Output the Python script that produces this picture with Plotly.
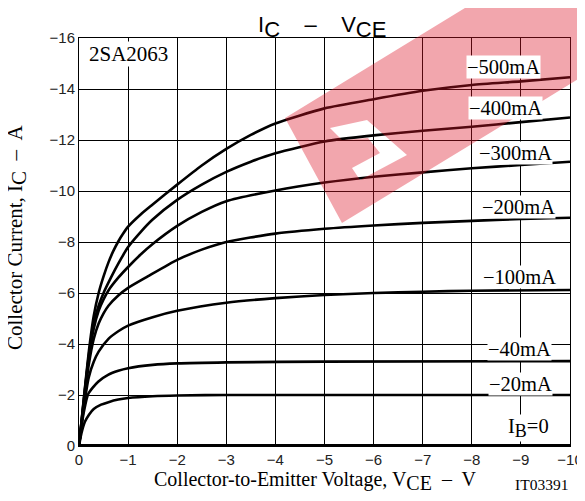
import plotly.graph_objs as go

# I_C - V_CE curves, 2SA2063
vce_0 = [0, -10]
ic_0 = [0, 0]

vce_20 = [0, -0.05, -0.12, -0.2, -0.3, -0.45, -0.6, -0.8, -1, -1.5, -2, -3, -10]
ic_20 = [0, -0.5, -0.95, -1.22, -1.45, -1.62, -1.72, -1.82, -1.88, -1.95, -1.98, -2.0, -2.0]

vce_40 = [0, -0.05, -0.1, -0.19, -0.39, -0.6, -0.8, -1, -1.5, -2, -3, -5, -10]
ic_40 = [0, -0.75, -1.35, -2.05, -2.52, -2.8, -2.95, -3.05, -3.18, -3.24, -3.28, -3.31, -3.33]

vce_100 = [0, -0.1, -0.2, -0.3, -0.4, -0.6, -0.8, -1, -1.5, -2, -3, -4, -5, -6, -7, -8, -10]
ic_100 = [0, -1.55, -2.7, -3.3, -3.7, -4.2, -4.5, -4.72, -5.05, -5.3, -5.62, -5.8, -5.92, -6.0, -6.05, -6.09, -6.12]

vce_200 = [0, -0.1, -0.2, -0.3, -0.4, -0.5, -0.6, -0.8, -1, -1.4, -2, -2.5, -3, -4, -5, -6, -7, -8, -9, -10]
ic_200 = [0, -1.7, -3.2, -4.2, -4.8, -5.2, -5.5, -5.9, -6.2, -6.65, -7.3, -7.7, -8.0, -8.33, -8.52, -8.65, -8.75, -8.83, -8.9, -8.95]

vce_300 = [0, -0.1, -0.2, -0.3, -0.4, -0.5, -0.6, -0.8, -1, -1.25, -1.5, -2, -2.5, -3, -4, -5, -6, -7, -8, -9, -10]
ic_300 = [0, -1.8, -3.45, -4.6, -5.3, -5.75, -6.1, -6.6, -7.02, -7.5, -7.92, -8.63, -9.18, -9.6, -10.02, -10.33, -10.56, -10.73, -10.89, -11.02, -11.15]

vce_400 = [0, -0.1, -0.2, -0.3, -0.4, -0.5, -0.65, -0.8, -1, -1.25, -1.5, -2, -2.5, -3, -3.5, -4, -5, -6, -7, -8, -9, -10]
ic_400 = [0, -1.85, -3.55, -4.8, -5.5, -6.0, -6.6, -7.15, -7.8, -8.38, -8.88, -9.65, -10.25, -10.75, -11.15, -11.48, -11.94, -12.18, -12.36, -12.52, -12.7, -12.88]

vce_500 = [0, -0.1, -0.2, -0.3, -0.4, -0.5, -0.6, -0.7, -0.8, -0.9, -1, -1.25, -1.5, -2, -2.5, -3, -3.5, -4, -5, -6, -7, -8, -9, -10]
ic_500 = [0, -1.9, -3.7, -5.1, -6.0, -6.65, -7.2, -7.65, -8.02, -8.33, -8.6, -9.07, -9.47, -10.25, -11.0, -11.65, -12.2, -12.65, -13.24, -13.6, -13.93, -14.16, -14.3, -14.46]

label_x = [-8.64, -8.68, -8.9, -8.96, -8.98, -8.98, -9.0, -9.16]
label_y = [-14.86, -13.25, -11.49, -9.37, -6.63, -3.8, -2.43, -0.7]

SERIF = "Liberation Serif, Times New Roman, serif"
SANS = "Liberation Sans, Arial, sans-serif"

W, H = 585, 501
OFF = 8  # page body margin of the html file
L, R, T, B = 79 - OFF, 15 + OFF, 38 - OFF, 55 + OFF


def px(x, y):
    # screen pixel -> paper coords (only used for placing texts / the watermark)
    return (x - OFF - L) / (W - L - R), (OFF + H - B - y) / (H - T - B)


def sub(t, size):
    # lowered subscript kept at full size, as in the datasheet
    return "<sub><span style='font-size:%spx'>%s</span></sub>" % (size, t)


curve_labels = ["\u2212500mA", "\u2212400mA", "\u2212300mA", "\u2212200mA", "\u2212100mA", "\u221240mA", "\u221220mA",
                "I" + sub("B", 18) + "=0"]

fig = go.Figure()

curves = [(vce_0, ic_0, 4), (vce_20, ic_20, 2.6), (vce_40, ic_40, 2.6), (vce_100, ic_100, 2.6),
          (vce_200, ic_200, 2.6), (vce_300, ic_300, 2.6), (vce_400, ic_400, 2.6), (vce_500, ic_500, 2.6)]
for vx, iy, w in curves:
    fig.add_scatter(x=vx, y=iy, mode='lines', showlegend=False,
                    line=dict(color='black', width=w, shape='spline', smoothing=0.6))

for txt, lx, ly in zip(curve_labels, label_x, label_y):
    fig.add_annotation(x=lx, y=ly, text=txt, showarrow=False, bgcolor='white', borderpad=0,
                       xanchor='center', yanchor='middle',
                       font=dict(family=SERIF, size=20.5, color='black'))

fig.add_annotation(x=-1.0, y=-15.37, text="2SA2063", showarrow=False, bgcolor='white', borderpad=0,
                   xanchor='center', yanchor='middle',
                   font=dict(family=SERIF, size=21, color='black'))

# title and axis titles
fig.add_annotation(xref='paper', yref='paper', x=px(322, 0)[0], y=px(0, 27)[1],
                   text="I" + sub("C", 22) + "    \u2013    V" + sub("CE", 22),
                   showarrow=False, xanchor='center', yanchor='middle',
                   font=dict(family=SANS, size=22, color='black'))
fig.add_annotation(xref='paper', yref='paper', x=px(17, 0)[0], y=px(0, 238)[1], textangle=-90,
                   text="Collector Current, I" + sub("C", 21) + "  \u2013  A", showarrow=False,
                   xanchor='center', yanchor='middle',
                   font=dict(family=SERIF, size=21, color='black'))
fig.add_annotation(xref='paper', yref='paper', x=px(315, 0)[0], y=px(0, 481)[1],
                   text="Collector-to-Emitter Voltage, V" + sub("CE", 20) + "  \u2013  V", showarrow=False,
                   xanchor='center', yanchor='middle',
                   font=dict(family=SERIF, size=20, color='black'))
fig.add_annotation(xref='paper', yref='paper', x=px(541, 0)[0], y=px(0, 484)[1], text="IT03391",
                   showarrow=False, xanchor='center', yanchor='middle',
                   font=dict(family=SERIF, size=15.5, color='black'))

# red watermark band over the upper-right part, with one letter cut out
band = [(285, 118), (342, 223), (585, 75), (585, 0), (478, 0)]
hole = [(330, 128), (367, 120), (407, 155), (360, 180), (352, 168), (380, 153), (368, 138), (342, 140)]


def subpath(pts):
    return "M " + " L ".join("%.4f,%.4f" % px(a, b) for a, b in pts) + " Z"


fig.add_shape(type='path', xref='paper', yref='paper', path=subpath(band) + " " + subpath(hole),
              fillrule='evenodd', layer='above',
              fillcolor='rgba(220,20,40,0.38)', line=dict(width=0))

fig.update_xaxes(range=[0, -10], dtick=1, showgrid=True, gridcolor='black', gridwidth=1,
                 showline=True, linecolor='black', linewidth=1, mirror=True, zeroline=False,
                 automargin=False, ticks='', tickfont=dict(family=SANS, size=15, color='#222'))
fig.update_yaxes(range=[0, -16], dtick=2, showgrid=True, gridcolor='black', gridwidth=1,
                 showline=True, linecolor='black', linewidth=1, mirror=True, zeroline=False,
                 automargin=False, ticks='', tickfont=dict(family=SANS, size=15, color='#222'))

fig.update_layout(width=W, height=H, margin=dict(l=L, r=R, t=T, b=B),
                  plot_bgcolor='white', paper_bgcolor='white', showlegend=False)

fig.write_html("out.html")
